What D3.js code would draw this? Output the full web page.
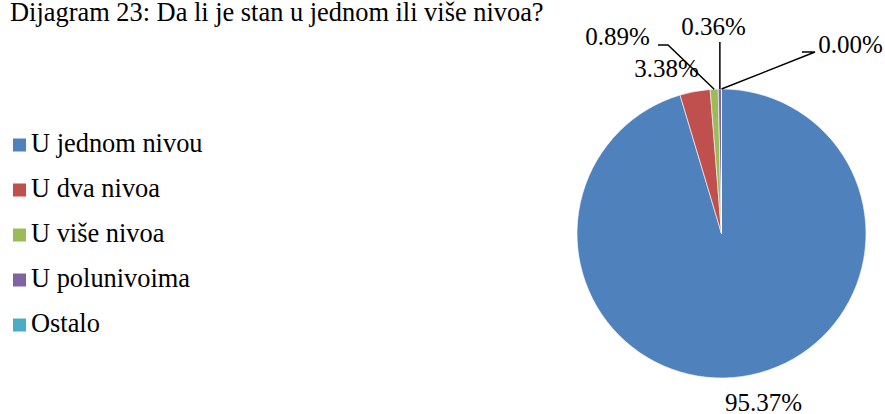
<!DOCTYPE html>
<html><head><meta charset="utf-8">
<script src="https://cdn.jsdelivr.net/npm/d3@7"></script>
<style>
html,body{margin:0;padding:0;background:#fff;}
</style></head>
<body>
<svg id="chart" width="885" height="414"></svg>
<script>
const title = "Dijagram 23: Da li je stan u jednom ili više nivoa?";
const categories = ["U jednom nivou", "U dva nivoa", "U više nivoa", "U polunivoima", "Ostalo"];
const values = [95.37, 3.38, 0.89, 0.36, 0.00];
const labels = ["95.37%", "3.38%", "0.89%", "0.36%", "0.00%"];
const colors = ["#4F81BD", "#C0504D", "#9BBB59", "#8064A2", "#4BACC6"];

// layout (label offsets relative to pie center, leader elbows)
const labelPos = [[42, 177], [-55, -156.5], [-104, -188.5], [-8, -198.5], [129, -180.5]];
const leaderElbow = [null, null, [[-63.5, -188.5], [-53.5, -188.5]], [[-1.6, -191.5]], [[80.5, -181.5], [93.5, -181.5]]];

const svg = d3.select("#chart");
const cx = 721.5, cy = 233.5, R = 144.5;
const FONT = "'Liberation Serif'";

svg.append("text").attr("x", 10).attr("y", 21).attr("font-size", 26.4).style("font-family", FONT).attr("fill", "#000").text(title);

// legend
const leg = svg.append("g");
const ly = d3.scalePoint().domain(categories).range([145, 325]);
categories.forEach((c, i) => {
  leg.append("rect").attr("x", 13).attr("y", ly(c) - 6.5).attr("width", 13).attr("height", 13).attr("fill", colors[i]);
  leg.append("text").attr("x", 31).attr("y", ly(c) + 6.5).attr("font-size", 26.4).style("font-family", FONT).attr("fill", "#000").text(c);
});

const pie = d3.pie().sort(null).value(d => d)(values);
const arc = d3.arc().innerRadius(0).outerRadius(R);
const g = svg.append("g").attr("transform", `translate(${cx},${cy})`);
g.selectAll("path").data(pie).join("path")
  .attr("d", arc).attr("fill", (d, i) => colors[i])
  .attr("stroke", "#fff").attr("stroke-width", 0.6);

// leader lines
pie.forEach((d, i) => {
  if (!leaderElbow[i]) return;
  const a = (d.startAngle + d.endAngle) / 2;
  const pts = leaderElbow[i].concat([[R * Math.sin(a), -R * Math.cos(a)]]);
  g.append("path").attr("d", d3.line()(pts)).attr("fill", "none").attr("stroke", "#000").attr("stroke-width", 1.5);
});

// labels
pie.forEach((d, i) => {
  g.append("text").attr("x", labelPos[i][0]).attr("y", labelPos[i][1])
    .attr("text-anchor", "middle").attr("font-size", 25).style("font-family", FONT).attr("fill", "#000").text(labels[i]);
});
</script>
</body></html>
